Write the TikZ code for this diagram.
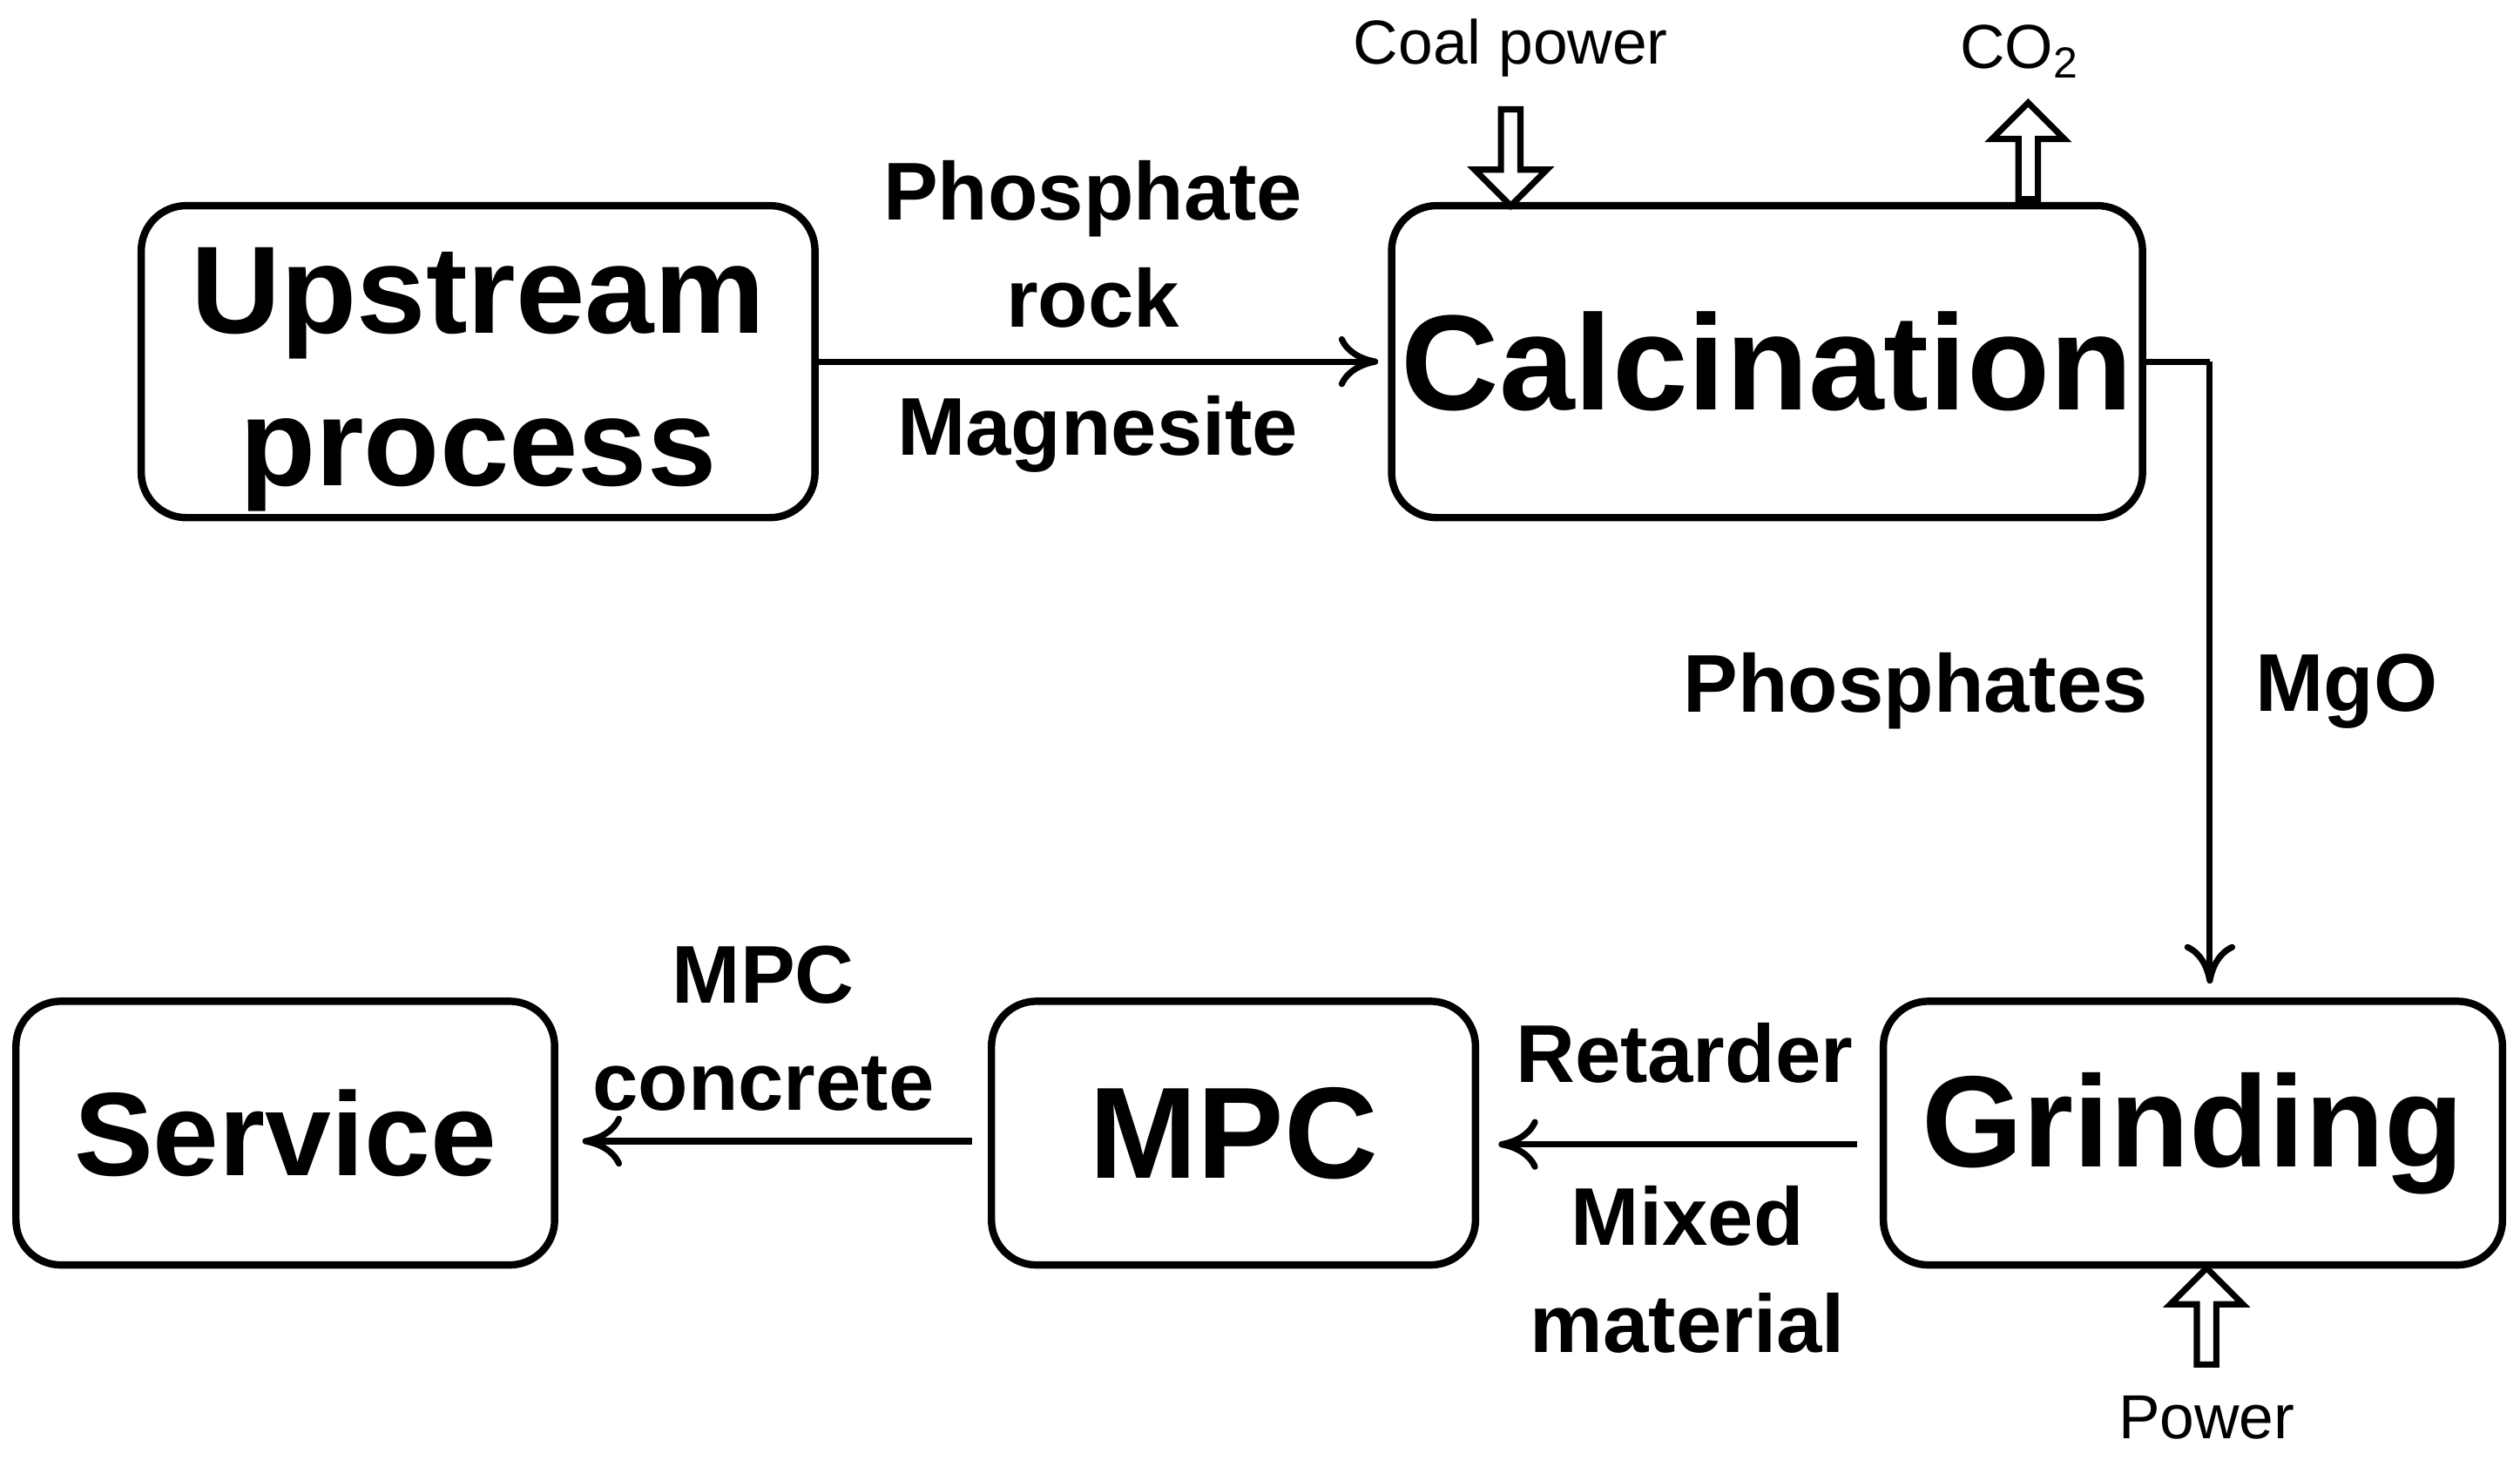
\documentclass[tikz,border=0pt]{standalone}
\usepackage{fontspec}
\setmainfont{Liberation Sans}
\usetikzlibrary{arrows.meta,shapes.arrows}
\begin{document}
\begin{tikzpicture}[x=0.01cm,y=-0.01cm,
  box/.style={draw,line width=1.3pt,rounded corners=0.28cm,inner sep=0pt,align=center},
  lab/.style={align=center,font=\bfseries\fontsize{14.5}{19}\selectfont},
  small/.style={font=\fontsize{11}{13}\selectfont},
  flow/.style={line width=1.1pt,-{To[length=7pt,width=9pt]}},
  hol/.style={draw,line width=1.1pt,single arrow,minimum height=0.6cm,minimum width=0.45cm,single arrow head extend=0.1cm,inner sep=0.5pt}]
\useasboundingbox (0,0) rectangle (1568,908);
\node[box,minimum width=4.19cm,minimum height=1.94cm] (up) at (297.5,225) {};
\node[align=center,inner sep=0pt,font=\bfseries\fontsize{22}{27}\selectfont] (upt) at (297.5,236) {Upstream\\process};
\node[box,minimum width=4.67cm,minimum height=1.94cm,font=\bfseries\fontsize{24}{30}\selectfont] (calc) at (1099.5,225) {Calcination};
\node[box,minimum width=3.85cm,minimum height=1.64cm,font=\bfseries\fontsize{23}{30}\selectfont] (grind) at (1364.5,705) {Grinding};
\node[box,minimum width=3.01cm,minimum height=1.64cm,font=\bfseries\fontsize{23}{30}\selectfont] (mpc) at (767.5,705) {MPC};
\node[box,minimum width=3.35cm,minimum height=1.64cm,font=\bfseries\fontsize{21}{26}\selectfont] (serv) at (177.5,705) {Service};
\coordinate (c1) at (1375,225);
\coordinate (c2) at (1375,612);
\draw[flow] (up.east) -- ([xshift=-0.06cm]calc.west);
\draw[line width=1.1pt] (calc.east) -- (c1);
\draw[flow] (c1) -- (c2);
\draw[flow] ([xshift=-0.14cm,yshift=-0.07cm]grind.west) -- ([xshift=0.12cm,yshift=-0.07cm]mpc.east);
\draw[flow] ([xshift=-0.1cm,yshift=-0.05cm]mpc.west) -- ([xshift=0.15cm,yshift=-0.05cm]serv.east);
\node[lab] (l1) at (680,152) {Phosphate\\rock};
\node[lab] (l2) at (683,270) {Magnesite};
\node[lab] (l3) at (1192,430) {Phosphates};
\node[lab] (l4) at (1460,430) {MgO};
\node[lab] (l5) at (1048,655) {Retarder};
\node[lab] (l6) at (1050,790) {Mixed\\material};
\node[lab] (l7) at (475,640) {MPC\\concrete};
\node[small] (t1) at (940,30) {Coal power};
\node[small] (t2) at (1257,32) {CO\textsubscript{2}};
\node[small] (t3) at (1373,882) {Power};
\node[hol,rotate=-90] (a1) at (940,95) {};
\node[hol,rotate=90] (a2) at (1262,97) {};
\node[hol,rotate=90] (a3) at (1373,822) {};
\end{tikzpicture}
\end{document}
